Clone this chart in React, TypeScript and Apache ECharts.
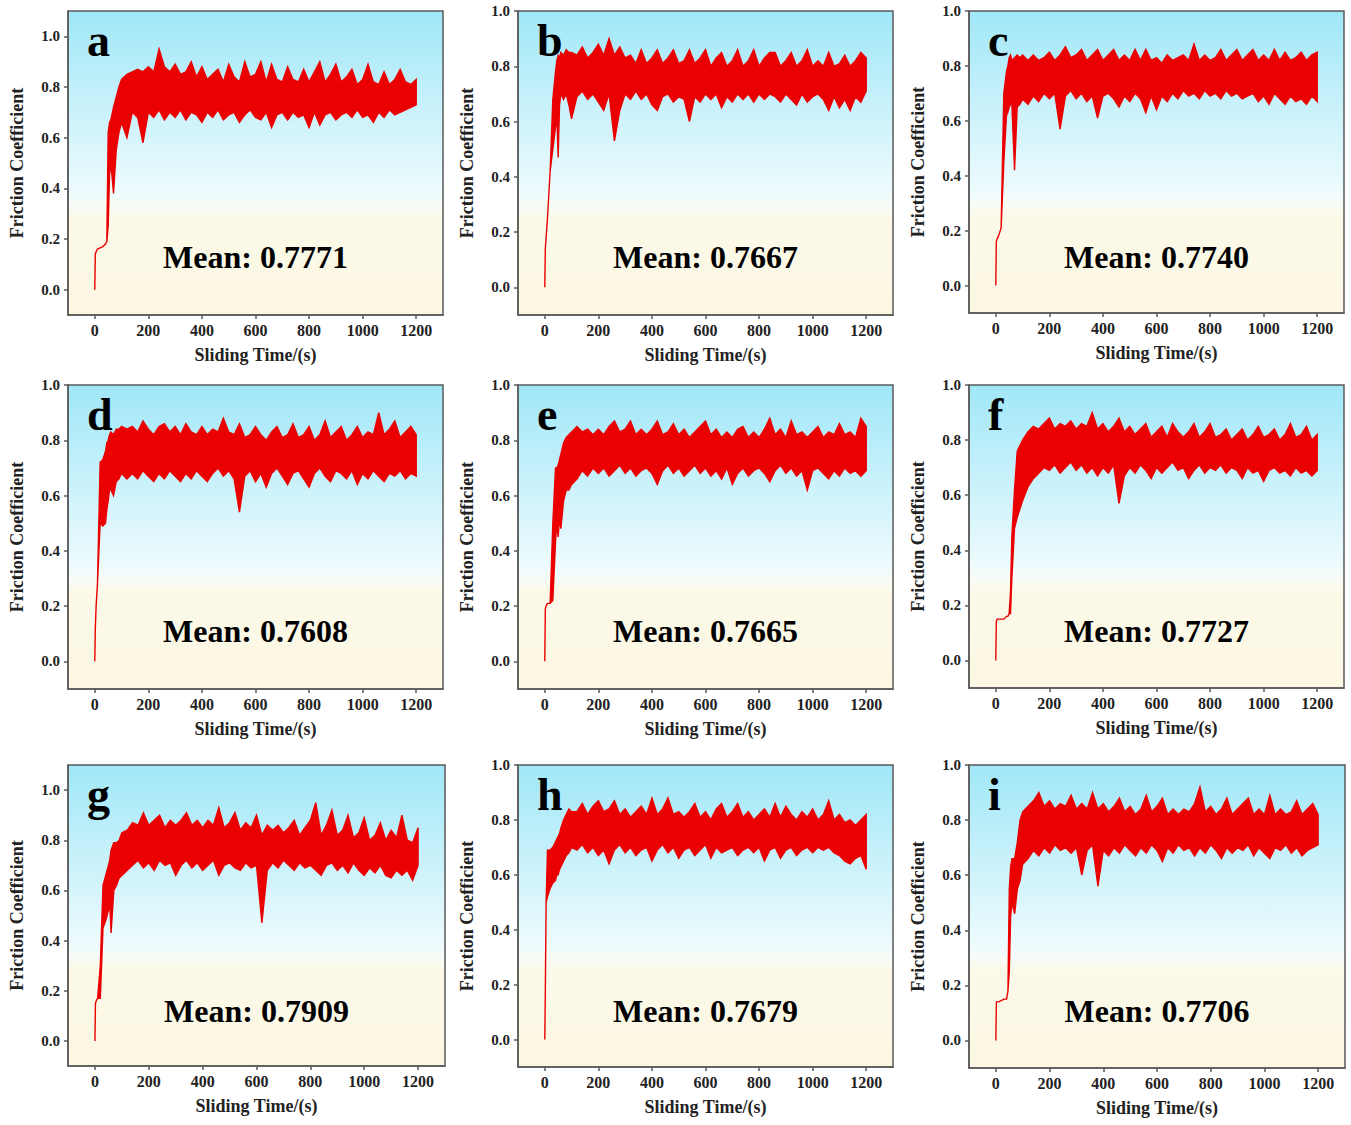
import React, { useEffect, useRef } from "react";
import * as echarts from "echarts";

// ---------- data ----------
const TIME = [0, 2, 5, 10, 20, 30, 40, 45, 50, 55, 60, 70, 80, 90, 100,
  120, 140, 160, 180, 200, 220, 240, 260, 280, 300,
  320, 340, 360, 380, 400, 420, 440, 460, 480, 500,
  520, 540, 560, 580, 600, 620, 640, 660, 680, 700,
  720, 740, 760, 780, 800, 820, 840, 860, 880, 900,
  920, 940, 960, 980, 1000, 1020, 1040, 1060, 1080, 1100,
  1120, 1140, 1160, 1180, 1200];

const X_TICKS = [0, 200, 400, 600, 800, 1000, 1200];
const Y_TICKS = [0, 0.2, 0.4, 0.6, 0.8, 1.0];
const LETTERS = ["a", "b", "c", "d", "e", "f", "g", "h", "i"];
const MEANS = ["0.7771", "0.7667", "0.7740", "0.7608", "0.7665", "0.7727", "0.7909", "0.7679", "0.7706"];
const Y_MAX = [1.1, 1.0, 1.0, 1.0, 1.0, 1.0, 1.1, 1.0, 1.0];

const UPPER_A = [0, .14, .15, .16, .165, .17, .18, .19, .62, .66, .67, .72, .76, .80, .83,
  .85, .86, .87, .86, .88, .86, .95, .88, .86, .89,
  .85, .86, .90, .84, .88, .83, .85, .87, .82, .89,
  .84, .82, .90, .84, .85, .90, .82, .89, .83, .82,
  .88, .83, .82, .87, .82, .86, .90, .82, .85, .89,
  .82, .84, .87, .81, .83, .89, .82, .81, .86, .81,
  .83, .87, .82, .81, .83];
const LOWER_A = [0, .14, .15, .16, .165, .17, .18, .19, .25, .45, .50, .38, .55, .62, .66,
  .60, .70, .68, .58, .70, .68, .71, .67, .70, .68,
  .71, .67, .70, .69, .66, .70, .68, .71, .67, .69,
  .70, .66, .69, .71, .68, .67, .70, .64, .69, .70,
  .67, .70, .68, .69, .64, .70, .65, .69, .70, .67,
  .69, .70, .68, .71, .68, .69, .66, .70, .68, .71,
  .69, .70, .71, .72, .73];

const UPPER_B = [0, .14, .18, .25, .42, .68, .78, .82, .84, .83, .85, .84, .86, .85, .85,
  .84, .87, .83, .85, .88, .84, .90, .84, .87, .83,
  .84, .81, .86, .81, .83, .86, .81, .83, .86, .81,
  .82, .86, .81, .83, .86, .80, .83, .85, .80, .82,
  .86, .80, .82, .86, .80, .83, .85, .85, .80, .82,
  .85, .80, .82, .86, .80, .82, .80, .85, .80, .81,
  .84, .80, .82, .85, .83];
const LOWER_B = [0, .14, .18, .25, .42, .50, .58, .62, .47, .66, .70, .68, .70, .66, .61,
  .69, .71, .68, .70, .67, .64, .70, .53, .64, .70,
  .68, .71, .68, .70, .66, .64, .69, .70, .67, .69,
  .68, .60, .69, .67, .70, .68, .70, .65, .69, .67,
  .70, .68, .70, .67, .70, .68, .70, .69, .67, .70,
  .68, .66, .70, .67, .69, .70, .68, .64, .69, .65,
  .68, .64, .69, .67, .71];

const UPPER_C = [0, .16, .17, .18, .21, .70, .78, .80, .83, .84, .82, .83, .84, .83, .84,
  .82, .84, .82, .83, .85, .82, .84, .87, .83, .84,
  .86, .82, .84, .86, .82, .84, .86, .82, .84, .82,
  .86, .82, .86, .82, .83, .81, .84, .82, .83, .84,
  .82, .88, .82, .84, .82, .83, .86, .82, .84, .86,
  .82, .84, .86, .82, .84, .82, .86, .82, .85, .82,
  .83, .85, .82, .84, .85];
const LOWER_C = [0, .16, .17, .18, .21, .45, .62, .63, .65, .66, .66, .42, .65, .66, .68,
  .66, .69, .67, .70, .68, .70, .57, .69, .71, .68,
  .70, .67, .69, .61, .69, .70, .68, .65, .69, .67,
  .70, .68, .63, .69, .64, .69, .67, .70, .68, .71,
  .69, .70, .68, .71, .69, .70, .68, .71, .69, .70,
  .68, .69, .70, .67, .69, .66, .70, .68, .66, .69,
  .67, .68, .66, .69, .67];

const UPPER_D = [0, .12, .20, .28, .72, .73, .76, .79, .80, .82, .83, .82, .84, .84, .85,
  .84, .85, .83, .87, .84, .82, .85, .86, .83, .85,
  .82, .86, .83, .82, .85, .82, .84, .83, .88, .83,
  .82, .86, .81, .82, .85, .82, .80, .83, .85, .81,
  .82, .86, .81, .82, .85, .80, .82, .87, .81, .83,
  .85, .80, .82, .85, .81, .83, .82, .90, .82, .84,
  .87, .81, .83, .85, .82];
const LOWER_D = [0, .12, .20, .28, .50, .49, .50, .55, .58, .62, .62, .60, .65, .66, .68,
  .66, .68, .66, .69, .67, .65, .68, .66, .69, .67,
  .65, .68, .66, .69, .67, .65, .68, .70, .67, .69,
  .66, .54, .67, .69, .65, .68, .63, .68, .70, .67,
  .64, .68, .69, .66, .63, .68, .70, .67, .65, .69,
  .68, .66, .69, .64, .68, .66, .69, .67, .65, .68,
  .67, .69, .66, .68, .67];

const UPPER_E = [0, .19, .20, .21, .21, .50, .70, .70, .71, .73, .75, .79, .81, .82, .83,
  .85, .83, .84, .82, .84, .82, .85, .87, .83, .84,
  .87, .82, .84, .82, .84, .87, .82, .83, .86, .82,
  .84, .81, .83, .85, .87, .82, .84, .81, .83, .81,
  .84, .85, .81, .83, .81, .84, .88, .82, .84, .81,
  .87, .82, .83, .81, .83, .85, .81, .83, .82, .86,
  .82, .83, .81, .88, .85];
const LOWER_E = [0, .19, .20, .21, .21, .22, .43, .50, .45, .52, .48, .58, .62, .62, .64,
  .66, .69, .67, .70, .68, .70, .67, .69, .71, .68,
  .70, .67, .69, .70, .68, .64, .69, .71, .68, .70,
  .67, .69, .71, .68, .70, .67, .69, .66, .70, .64,
  .68, .70, .67, .69, .70, .68, .65, .69, .71, .68,
  .70, .67, .69, .62, .69, .70, .68, .66, .69, .67,
  .70, .68, .69, .67, .69];

const UPPER_F = [0, .14, .15, .15, .15, .15, .16, .16, .17, .25, .45, .62, .76, .78, .80,
  .83, .85, .84, .86, .88, .84, .86, .85, .87, .84,
  .86, .85, .90, .84, .86, .83, .85, .88, .83, .85,
  .82, .84, .86, .81, .83, .85, .81, .86, .83, .81,
  .83, .86, .81, .83, .86, .81, .82, .84, .80, .82,
  .84, .80, .82, .85, .81, .82, .84, .80, .82, .86,
  .81, .82, .85, .80, .82];
const LOWER_F = [0, .14, .15, .15, .15, .15, .16, .16, .17, .17, .30, .48, .52, .55, .58,
  .63, .66, .68, .70, .69, .71, .68, .70, .72, .69,
  .71, .68, .70, .67, .70, .68, .71, .57, .67, .70,
  .68, .71, .69, .66, .70, .68, .70, .72, .69, .70,
  .66, .69, .71, .68, .70, .69, .71, .68, .70, .69,
  .66, .70, .68, .69, .65, .69, .70, .68, .69, .67,
  .70, .68, .69, .67, .69];

const UPPER_G = [0, .15, .16, .17, .30, .62, .66, .68, .70, .72, .76, .79, .79, .80, .83,
  .84, .87, .86, .91, .86, .88, .90, .85, .88, .86,
  .88, .91, .86, .88, .85, .88, .86, .93, .85, .87,
  .91, .84, .87, .85, .90, .82, .86, .84, .86, .83,
  .85, .88, .82, .85, .88, .95, .82, .86, .92, .82,
  .84, .90, .81, .83, .89, .80, .82, .87, .80, .84,
  .81, .90, .80, .79, .85];
const LOWER_G = [0, .15, .16, .17, .17, .45, .48, .50, .52, .55, .43, .60, .62, .65, .66,
  .68, .70, .72, .69, .71, .68, .72, .70, .71, .66,
  .70, .72, .69, .71, .68, .70, .72, .66, .70, .71,
  .69, .68, .71, .69, .70, .47, .68, .71, .69, .72,
  .70, .68, .71, .69, .70, .68, .66, .70, .71, .68,
  .70, .67, .71, .68, .66, .69, .67, .70, .66, .65,
  .68, .66, .68, .64, .70];

const UPPER_H = [0, .17, .50, .69, .69, .70, .72, .73, .74, .75, .77, .80, .82, .84, .83,
  .83, .86, .82, .85, .87, .83, .84, .87, .82, .84,
  .81, .83, .85, .82, .88, .82, .84, .88, .82, .83,
  .81, .83, .86, .81, .83, .80, .84, .86, .81, .83,
  .86, .81, .83, .80, .82, .84, .81, .86, .81, .85,
  .82, .80, .83, .81, .84, .80, .82, .87, .80, .82,
  .79, .80, .78, .80, .82];
const LOWER_H = [0, .17, .50, .52, .55, .57, .58, .60, .60, .62, .63, .65, .67, .68, .70,
  .69, .71, .68, .70, .67, .69, .64, .69, .71, .68,
  .70, .67, .69, .70, .65, .69, .71, .68, .70, .66,
  .69, .70, .67, .69, .71, .66, .70, .68, .69, .70,
  .67, .69, .70, .68, .70, .65, .69, .70, .66, .69,
  .70, .67, .69, .70, .68, .70, .69, .70, .68, .67,
  .65, .64, .66, .67, .62];

const UPPER_I = [0, .14, .14, .14, .145, .15, .15, .18, .55, .63, .66, .66, .72, .80, .83,
  .85, .87, .90, .85, .87, .84, .86, .85, .89, .84,
  .86, .84, .90, .84, .86, .83, .85, .88, .83, .85,
  .82, .84, .89, .83, .85, .88, .82, .84, .82, .84,
  .83, .86, .92, .83, .85, .82, .84, .88, .82, .84,
  .86, .88, .82, .84, .82, .89, .82, .84, .82, .83,
  .87, .82, .84, .86, .82];
const LOWER_I = [0, .14, .14, .14, .145, .15, .15, .18, .25, .45, .50, .46, .55, .58, .64,
  .66, .69, .67, .70, .68, .71, .69, .70, .68, .70,
  .60, .69, .71, .56, .69, .67, .70, .68, .71, .69,
  .67, .70, .68, .71, .69, .65, .70, .68, .71, .69,
  .70, .67, .70, .68, .71, .69, .66, .70, .68, .70,
  .69, .71, .67, .70, .68, .66, .70, .69, .71, .68,
  .70, .67, .69, .70, .71];

const UPPERS = [UPPER_A, UPPER_B, UPPER_C, UPPER_D, UPPER_E, UPPER_F, UPPER_G, UPPER_H, UPPER_I];
const LOWERS = [LOWER_A, LOWER_B, LOWER_C, LOWER_D, LOWER_E, LOWER_F, LOWER_G, LOWER_H, LOWER_I];

// ---------- layout ----------
const GRIDS = [
  { left: 68, top: 11, width: 375, height: 304 },
  { left: 518, top: 11, width: 375, height: 304 },
  { left: 969, top: 11, width: 375, height: 302 },
  { left: 68, top: 385, width: 375, height: 304 },
  { left: 518, top: 385, width: 375, height: 304 },
  { left: 969, top: 385, width: 375, height: 303 },
  { left: 68, top: 765, width: 377, height: 301 },
  { left: 518, top: 765, width: 375, height: 302 },
  { left: 969, top: 765, width: 376, height: 303 },
];

const FONT = '"Liberation Serif", "Times New Roman", serif';
const RED = "#ea0000";
const AXIS_COLOR = "#5a5a5a";

function buildOption() {
  const grid: any[] = [];
  const xAxis: any[] = [];
  const yAxis: any[] = [];
  const series: any[] = [];
  const graphic: any[] = [];

  GRIDS.forEach((g, k) => {
    grid.push({
      ...g,
      show: true,
      borderColor: AXIS_COLOR,
      borderWidth: 1.5,
      backgroundColor: {
        type: "linear", x: 0, y: 0, x2: 0, y2: 1,
        colorStops: [
          { offset: 0, color: "#a0e7f8" },
          { offset: 0.6, color: "#eefbfd" },
          { offset: 0.64, color: "#f8fcf6" },
          { offset: 0.68, color: "#fcf9e9" },
          { offset: 1, color: "#fbf7e2" },
        ],
      },
    });
    xAxis.push({
      gridIndex: k,
      type: "value",
      min: -100,
      max: 1300,
      axisLine: { show: true, onZero: false, lineStyle: { color: AXIS_COLOR, width: 1.5 } },
      axisTick: { show: true, customValues: X_TICKS, length: 4, inside: false, lineStyle: { color: AXIS_COLOR, width: 1.5 } },
      axisLabel: {
        customValues: X_TICKS, fontFamily: FONT, fontWeight: "bold", fontSize: 16, color: "#222", margin: 7,
        formatter: (v: number) => String(v),
      },
      splitLine: { show: false },
      name: "Sliding Time/(s)",
      nameLocation: "middle",
      nameGap: 31,
      nameTextStyle: { fontFamily: FONT, fontWeight: "bold", fontSize: 18, color: "#222" },
    });
    yAxis.push({
      gridIndex: k,
      type: "value",
      min: -0.1,
      max: Y_MAX[k],
      axisLine: { show: true, onZero: false, lineStyle: { color: AXIS_COLOR, width: 1.5 } },
      axisTick: { show: true, customValues: Y_TICKS, length: 4, inside: false, lineStyle: { color: AXIS_COLOR, width: 1.5 } },
      axisLabel: {
        customValues: Y_TICKS, fontFamily: FONT, fontWeight: "bold", fontSize: 15, color: "#222", margin: 8,
        formatter: (v: number) => v.toFixed(1),
      },
      splitLine: { show: false },
      name: "Friction Coefficient",
      nameLocation: "middle",
      nameGap: 42,
      nameTextStyle: { fontFamily: FONT, fontWeight: "bold", fontSize: 18, color: "#222" },
    });
    const up = UPPERS[k];
    const lo = LOWERS[k];
    series.push({
      type: "custom",
      coordinateSystem: "cartesian2d",
      xAxisIndex: k,
      yAxisIndex: k,
      clip: true,
      silent: true,
      data: [[0, 0]],
      renderItem: (_p: any, api: any) => {
        const pts: number[][] = [];
        for (let j = 0; j < TIME.length; j++) pts.push(api.coord([TIME[j], up[j]]));
        for (let j = TIME.length - 1; j >= 0; j--) pts.push(api.coord([TIME[j], lo[j]]));
        return {
          type: "polygon",
          shape: { points: pts },
          style: { fill: RED, stroke: RED, lineWidth: 1.4, lineJoin: "miter" },
        };
      },
    });
    graphic.push({
      type: "text",
      left: g.left + 19,
      top: g.top + 6,
      style: {
        text: LETTERS[k],
        font: `bold 46px ${FONT}`,
        fill: "#000",
      },
    });
    graphic.push({
      type: "text",
      x: g.left + g.width / 2,
      y: g.top + 246,
      style: {
        text: "Mean: " + MEANS[k],
        x: 0,
        y: 0,
        font: `bold 32px ${FONT}`,
        fill: "#000",
        textAlign: "center",
        textVerticalAlign: "middle",
        align: "center",
        verticalAlign: "middle",
        shadowColor: "rgba(0,0,0,0.5)",
        shadowBlur: 3,
        shadowOffsetX: 2,
        shadowOffsetY: 2,
      },
    });
  });

  return { animation: false, backgroundColor: "#ffffff", grid, xAxis, yAxis, series, graphic };
}

export default function App() {
  const ref = useRef<HTMLDivElement>(null);
  useEffect(() => {
    if (!ref.current) return;
    const chart = echarts.init(ref.current, undefined, { renderer: "svg" });
    chart.setOption(buildOption() as any);
    return () => chart.dispose();
  }, []);
  return (
    <div
      ref={ref}
      style={{ position: "absolute", left: 0, top: 0, width: 1351, height: 1125 }}
    />
  );
}
